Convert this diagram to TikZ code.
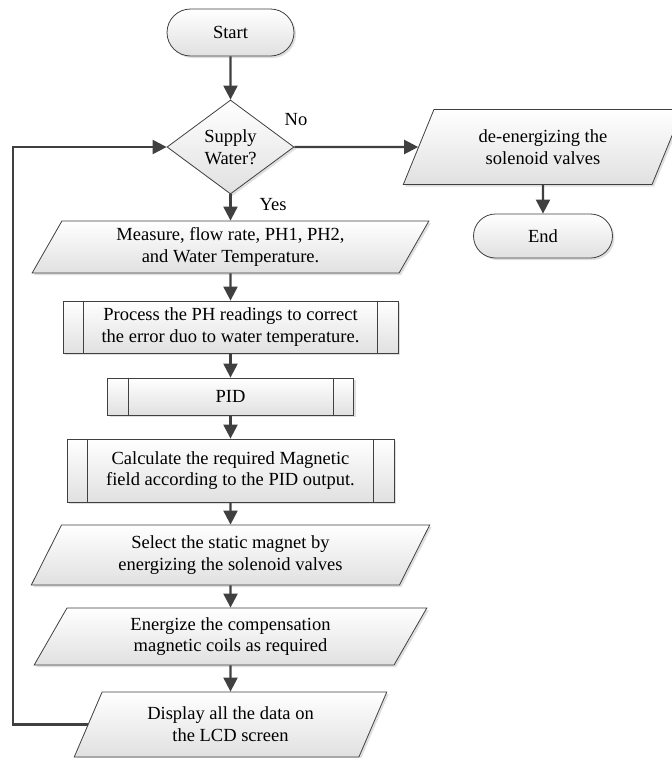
\documentclass[tikz,border=0pt]{standalone}
\usepackage{fontspec}
\setmainfont{Liberation Serif}
\usetikzlibrary{shapes.geometric,shapes.misc,arrows.meta,shadows,calc}
\definecolor{ln}{HTML}{404040}
\begin{document}
\begin{tikzpicture}[x=1pt,y=-1pt,
  font=\fontsize{18.5}{21.7}\selectfont,
  box/.style={draw=ln, line width=0.8pt, top color=white, bottom color=black!12,
    drop shadow={shadow xshift=2pt,shadow yshift=-2pt,fill=black!25},
    align=center, inner sep=0pt, text=black},
  term/.style={box, rounded rectangle},
  dec/.style={box, diamond, aspect=1.35},
  io/.style={box, trapezium, trapezium left angle=62.5, trapezium right angle=117.5, trapezium stretches=true},
  sub/.style={box, rectangle},
  arr/.style={draw=ln, line width=2.2pt, -{Triangle[length=14pt,width=14pt]}},
  inner/.style={draw=ln, line width=0.8pt},
]
\useasboundingbox (0,0) rectangle (672,758);
\clip (0,0) rectangle (672,758);

\node[term, minimum width=127pt, minimum height=47pt] (start) at (230.5,32.5) {Start};
\node[dec, minimum width=127pt, minimum height=94pt] (dia) at (230.5,147) {Supply\\Water?};
\node[io, minimum width=397pt, minimum height=52pt] (meas) at (230.5,247) {Measure, flow rate, PH1, PH2,\\and Water Temperature.};
\node[sub, minimum width=335pt, minimum height=52pt] (proc) at (230.5,327) {Process the PH readings to correct\\the error duo to water temperature.};
\node[sub, minimum width=246pt, minimum height=37pt] (pid) at (230.5,396.5) {PID};
\node[sub, minimum width=327pt, minimum height=63pt] (calc) at (230.5,470.5) {Calculate the required Magnetic\\field according to the PID output.};
\node[io, minimum width=400pt, minimum height=60pt] (sel) at (230.5,555) {Select the static magnet by\\energizing the solenoid valves};
\node[io, minimum width=394pt, minimum height=57pt] (ener) at (230.5,636.5) {Energize the compensation\\magnetic coils as required};
\node[io, minimum width=313pt, minimum height=65pt] (disp) at (230.5,724.5) {Display all the data on\\the LCD screen};
\node[io, minimum width=280pt, minimum height=75pt] (de) at (543,147) {de-energizing the\\solenoid valves};
\node[term, minimum width=139pt, minimum height=44pt] (end) at (543,236) {End};

\foreach \n in {proc,pid,calc}{
  \draw[inner] ($(\n.north west)+(21,0)$) -- ($(\n.south west)+(21,0)$);
  \draw[inner] ($(\n.north east)+(-21,0)$) -- ($(\n.south east)+(-21,0)$);
}

\node (no) at (296,120) {No};
\node (yes) at (273,205) {Yes};

\draw[arr] (start) -- (dia);
\draw[arr] (dia) -- (meas);
\draw[arr] (meas) -- (proc);
\draw[arr] (proc) -- (pid);
\draw[arr] (pid) -- (calc);
\draw[arr] (calc) -- (sel);
\draw[arr] (sel) -- (ener);
\draw[arr] (ener) -- (disp);
\draw[arr] (dia) -- (de);
\draw[arr] (de) -- (end);
\coordinate (lx) at (13,0);
\draw[arr] (disp.west) -- (disp.west -| lx) |- (dia.west);
\end{tikzpicture}
\end{document}
